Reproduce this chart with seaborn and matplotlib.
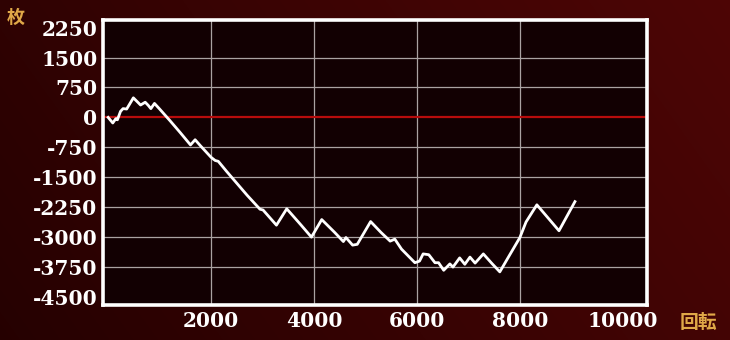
import numpy as np
import pandas as pd
import matplotlib
matplotlib.use("Agg")
import matplotlib.pyplot as plt
import seaborn as sns

# ---- data ----
spins = [0, 90, 150, 180, 240, 290, 360, 490, 560, 630, 720, 780, 830, 900, 1000,
         1200, 1400, 1600, 1690, 1800, 2000, 2080, 2140, 2300, 2500, 2700, 2950, 3010,
         3270, 3470, 3600, 3750, 3950, 4150, 4400, 4570, 4620, 4750, 4840, 5100, 5300,
         5480, 5570, 5700, 5960, 6050, 6120, 6230, 6350, 6420, 6520, 6640, 6700, 6830,
         6930, 7030, 7130, 7290, 7450, 7610, 7800, 8000, 8120, 8330, 8760, 9070]
coins = [0, -140, -30, -60, 150, 220, 210, 490, 400, 310, 380, 300, 220, 350, 210,
         -80, -380, -690, -560, -720, -1000, -1080, -1100, -1350, -1650, -1950, -2300, -2320,
         -2700, -2290, -2480, -2700, -3000, -2560, -2880, -3110, -3010, -3200, -3180, -2610, -2880,
         -3100, -3050, -3300, -3640, -3600, -3420, -3440, -3640, -3640, -3830, -3670, -3750, -3520,
         -3680, -3500, -3650, -3420, -3650, -3870, -3450, -3010, -2620, -2190, -2840, -2110]
x_ticks = [2000, 4000, 6000, 8000, 10000]
y_ticks = [2250, 1500, 750, 0, -750, -1500, -2250, -3000, -3750, -4500]
y_label = "枚"
x_label = "回転"

df = pd.DataFrame({"spins": spins, "coins": coins})

W, H = 730, 340
fig = plt.figure(figsize=(W / 100, H / 100), dpi=100)

# background gradient (dark red)
bg = fig.add_axes([0, 0, 1, 1], zorder=-10)
bg.axis("off")
yy, xx = np.mgrid[0:H, 0:W]
r = np.clip(0.6 * (xx / W) + 0.2 * (1 - yy / H) + 0.15, 0, 1)
dark = np.array([0x1e, 0x00, 0x00]) / 255
light = np.array([0x50, 0x06, 0x06]) / 255
img = dark[None, None, :] * (1 - r[..., None]) + light[None, None, :] * r[..., None]
bg.imshow(img, aspect="auto", extent=[0, 1, 0, 1])
bg.set_xlim(0, 1)
bg.set_ylim(0, 1)

ax = fig.add_axes([103 / W, 35 / H, 544 / W, 285 / H])
ax.set_facecolor("#120002")

ax.set_xlim(-100, 10470)
ax.set_ylim(-4700, 2440)
ax.set_xticks(x_ticks)
ax.set_yticks(y_ticks)
ax.set_xticklabels([str(v) for v in x_ticks])
ax.set_yticklabels([str(v) for v in y_ticks])

ax.grid(True, color="#aaa2a2", lw=0.9, zorder=1)
ax.set_axisbelow(True)
xg = ax.xaxis.get_gridlines()
xg[-1].set_visible(False)
yg = ax.yaxis.get_gridlines()
yg[0].set_visible(False)
yg[-1].set_visible(False)
yg[3].set_visible(False)

ax.axhline(0, color="#b80c0c", lw=1.6, zorder=2)

sns.lineplot(data=df, x="spins", y="coins", ax=ax, color="white", lw=2.0,
             estimator=None, sort=False, zorder=3)
ax.set_xlabel("")
ax.set_ylabel("")

for s in ax.spines.values():
    s.set_color("white")
    s.set_linewidth(2.6)
    s.set_zorder(5)

ax.tick_params(length=0, pad=4, colors="white", labelsize=14.5)
for lab in ax.get_xticklabels() + ax.get_yticklabels():
    lab.set_family("DejaVu Serif")
    lab.set_fontweight("bold")
    lab.set_color("white")

fig.text(16 / W, 1 - 17 / H, y_label, color="#e0a848", fontsize=13,
         family=["Noto Sans CJK JP", "DejaVu Sans"], fontweight="bold",
         ha="center", va="center")
fig.text(698 / W, 1 - 323 / H, x_label, color="#e0a848", fontsize=13.5,
         family=["Noto Sans CJK JP", "DejaVu Sans"], fontweight="bold",
         ha="center", va="center")

fig.savefig("out.png", dpi=100, facecolor="#3a0404")
